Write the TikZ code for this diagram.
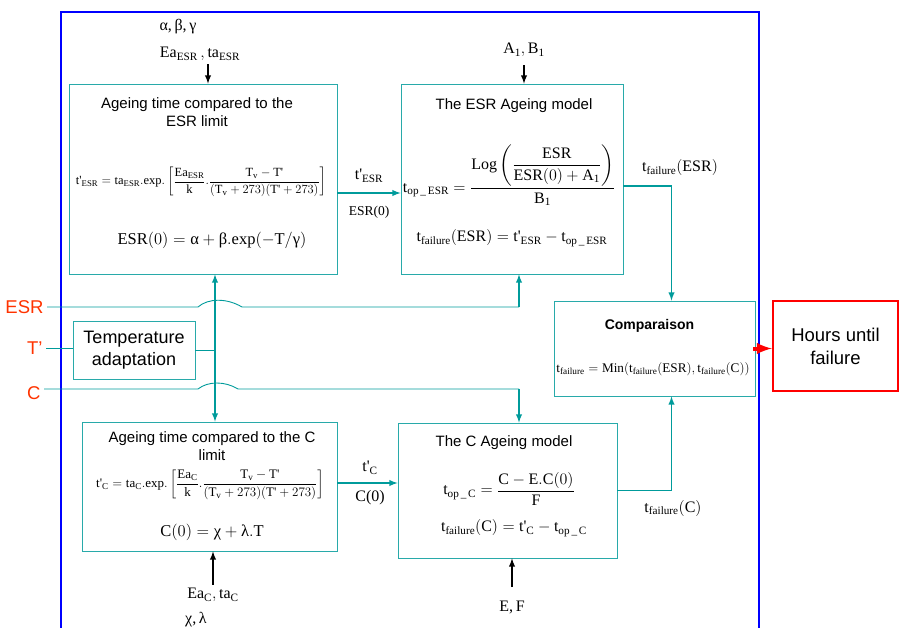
\RequirePackage{fix-cm}
\documentclass[tikz,border=0pt]{standalone}
\usepackage{amsmath}
\usepackage{fontspec}
\setmainfont{Liberation Serif}
\setsansfont{Liberation Sans}
\usepackage{tikz}
\usetikzlibrary{arrows}
\definecolor{xanhngoc}{RGB}{0,155,155}
\definecolor{vienngoc}{RGB}{40,170,170}
\definecolor{xanhduong}{RGB}{0,0,255}
\definecolor{dotuoi}{RGB}{255,0,0}
\definecolor{cam}{RGB}{255,51,0}
\newcommand{\tpr}{\textrm{t\textquotesingle}}
\newcommand{\Tpr}{\textrm{T\textquotesingle}}
\newcommand{\rsub}[2]{\mathrm{#1}_{\mathrm{#2}}}

\begin{document}
\begin{tikzpicture}[x=1pt,y=-1pt,
		khung/.style={draw=vienngoc,line width=0.9pt,inner sep=0pt},
		tieude/.style={font=\sffamily\fontsize{15}{18}\selectfont,align=center},
		nhan/.style={font=\fontsize{16}{18}\selectfont},
		nhanre/.style={font=\sffamily\fontsize{18.5}{20}\selectfont,text=cam},
		dong/.style={draw=xanhngoc,line width=1.8pt,-latex},
		day/.style={draw=xanhngoc,line width=0.9pt},
		vao/.style={draw=black,line width=1.8pt,-latex}]
			\useasboundingbox (0,0) rectangle (901,628);
			\draw[xanhduong,line width=2pt] (61,628) -- (61,12) -- (759,12) -- (759,628);

			\node[khung,minimum width=268,minimum height=190] (limESR) at (203,179) {};
			\node[khung,minimum width=222,minimum height=190] (modESR) at (512,179) {};
			\node[khung,minimum width=201,minimum height=95] (comp) at (654.5,348.5) {};
			\node[draw=dotuoi,line width=2.5pt,minimum width=125,minimum height=90,align=center,
				font=\sffamily\fontsize{18.5}{23}\selectfont] (hours) at (835.5,346) {Hours until\\failure};
			\node[khung,minimum width=122,minimum height=58,align=center,
				font=\sffamily\fontsize{18}{22}\selectfont] (temp) at (134,350) {Temperature\\adaptation};
			\node[khung,minimum width=255,minimum height=129] (limC) at (209.5,486.5) {};
			\node[khung,minimum width=219,minimum height=135] (modC) at (507.5,490.5) {};

			\node[tieude] (tdLimESR) at (197,112) {Ageing time compared to the\\ESR limit};
			\node[font=\fontsize{12.5}{14}\selectfont] (ctLimESR) at (201,182) {$\tpr_{\mathrm{ESR}}=\rsub{ta}{ESR}.\mathrm{exp}.\left[\dfrac{\rsub{Ea}{ESR}}{\mathrm{k}}.\dfrac{\rsub{T}{v}-\Tpr}{(\rsub{T}{v}+273)(\Tpr+273)}\right]$};
			\node[font=\fontsize{16.5}{18}\selectfont] (ctESR0) at (212,240) {$\mathrm{ESR}(0)=\textrm{α}+\textrm{β}.\mathrm{exp}(-\mathrm{T}/\textrm{γ})$};

			\node[tieude] (tdModESR) at (514,106) {The ESR Ageing model};
			\node[font=\fontsize{16}{18}\selectfont] (ctOpESR) at (509,175) {$\mathrm{t}_{\textrm{op\,\_\,ESR}}=\dfrac{\mathrm{Log}\left(\dfrac{\mathrm{ESR}}{\mathrm{ESR}(0)+\rsub{A}{1}}\right)}{\rsub{B}{1}}$};
			\node[font=\fontsize{16}{18}\selectfont] (ctFailESR) at (512,238) {$\rsub{t}{failure}(\mathrm{ESR})=\tpr_{\mathrm{ESR}}-\mathrm{t}_{\textrm{op\,\_\,ESR}}$};

			\node[font=\sffamily\bfseries\fontsize{14}{16}\selectfont] (tdComp) at (649.5,326) {Comparaison};
			\node[font=\fontsize{13.2}{15}\selectfont] (ctComp) at (653,369) {$\rsub{t}{failure}=\mathrm{Min}(\rsub{t}{failure}(\mathrm{ESR}),\rsub{t}{failure}(\mathrm{C}))$};

			\node[tieude] (tdLimC) at (212,446.5) {Ageing time compared to the C\\limit};
			\node[font=\fontsize{13}{15}\selectfont] (ctLimC) at (210,485) {$\tpr_{\mathrm{C}}=\rsub{ta}{C}.\mathrm{exp}.\left[\dfrac{\rsub{Ea}{C}}{\mathrm{k}}.\dfrac{\rsub{T}{v}-\Tpr}{(\rsub{T}{v}+273)(\Tpr+273)}\right]$};
			\node[font=\fontsize{16.5}{18}\selectfont] (ctC0) at (212,532) {$\mathrm{C}(0)=\textrm{χ}+\textrm{λ}.\mathrm{T}$};

			\node[tieude] (tdModC) at (504,443) {The C Ageing model};
			\node[font=\fontsize{16}{18}\selectfont] (ctOpC) at (509,489) {$\mathrm{t}_{\textrm{op\,\_\,C}}=\dfrac{\mathrm{C}-\mathrm{E.C}(0)}{\mathrm{F}}$};
			\node[font=\fontsize{16}{18}\selectfont] (ctFailC) at (514,528) {$\rsub{t}{failure}(\mathrm{C})=\tpr_{\mathrm{C}}-\mathrm{t}_{\textrm{op\,\_\,C}}$};

			\node[nhanre,anchor=east] (lESR) at (47,307) {ESR};
			\node[nhanre,anchor=east] (lT) at (46,348) {T’};
			\node[nhanre,anchor=east] (lC) at (44,393) {C};

			\node[nhan] (parAlpha) at (178,27) {α,\,β,\,γ};
			\node[nhan] (parESR) at (200,54) {$\rsub{Ea}{ESR}\,,\rsub{ta}{ESR}$};
			\node[nhan] (parAB) at (524,50) {$\rsub{A}{1},\rsub{B}{1}$};
			\node[nhan] (parC) at (213,595) {$\rsub{Ea}{C},\rsub{ta}{C}$};
			\node[nhan] (parChi) at (196,620) {χ,\,λ};
			\node[nhan] (parEF) at (512,607) {E,\,F};

			\node[nhan] (lbtESR) at (369,176) {$\tpr_{\mathrm{ESR}}$};
			\node[font=\fontsize{13.5}{15}\selectfont] (lbESR0) at (369,212) {ESR(0)};
			\node[nhan] (lbtC) at (370,468) {$\tpr_{\mathrm{C}}$};
			\node[nhan] (lbC0) at (370,498) {C(0)};
			\node[nhan] (lbfESR) at (680,168) {$\rsub{t}{failure}(\mathrm{ESR})$};
			\node[nhan] (lbfC) at (673,508) {$\rsub{t}{failure}(\mathrm{C})$};

			\coordinate (truc) at ([xshift=12pt]limESR.south);
			\coordinate (gocESR) at ([xshift=7pt]modESR.south |- lESR.east);
			\coordinate (dauC) at ([yshift=4pt]lC.east);
			\coordinate (gocC) at ([xshift=11.5pt]modC.north |- dauC);

			\draw[vao] ([xshift=8pt]parESR.south) -- ([xshift=8pt]parESR.south |- limESR.north);
			\draw[vao] ([yshift=-5pt]parAB.south) -- (parAB.south |- modESR.north);
			\draw[vao] (parC.north) -- (parC.north |- limC.south);
			\draw[vao] ([yshift=10pt]parEF.north) -- (parEF.north |- modC.south);

			\draw[dong] ([yshift=-14pt]limESR.east) -- ([yshift=-14pt]limESR.east -| modESR.west);
			\draw[dong] ([yshift=-7pt]modESR.east) -| ([xshift=17pt]comp.north);
			\draw[dong] (modC.east) -| ([xshift=17pt]comp.south);
			\draw[dong] ([yshift=3.5pt]limC.east) -- ([yshift=3.5pt]limC.east -| modC.west);
			\draw[dong,latex-latex] (truc) -- (truc |- limC.north);
			\draw[dotuoi,line width=4pt,-latex] ([xshift=-2pt]comp.east) -- (comp.east -| hours.west);

			\draw[day] (lT.east) -- (lT.east -| temp.west);
			\draw[day] (temp.east) -- (temp.east -| truc);
			\draw[day] (lESR.east) -- ([xshift=-17pt]lESR.east -| truc) .. controls +(10,-9) and +(-15,-9) .. ([xshift=27pt]lESR.east -| truc) -- (gocESR);
			\draw[dong] (gocESR) -- (gocESR |- modESR.south);
			\draw[day] (dauC) -- ([xshift=-17pt]dauC -| truc) .. controls +(10,-8) and +(-13,-8) .. ([xshift=23pt]dauC -| truc) -- (gocC);
			\draw[dong] (gocC) -- (gocC |- modC.north);
		\end{tikzpicture}
\end{document}
